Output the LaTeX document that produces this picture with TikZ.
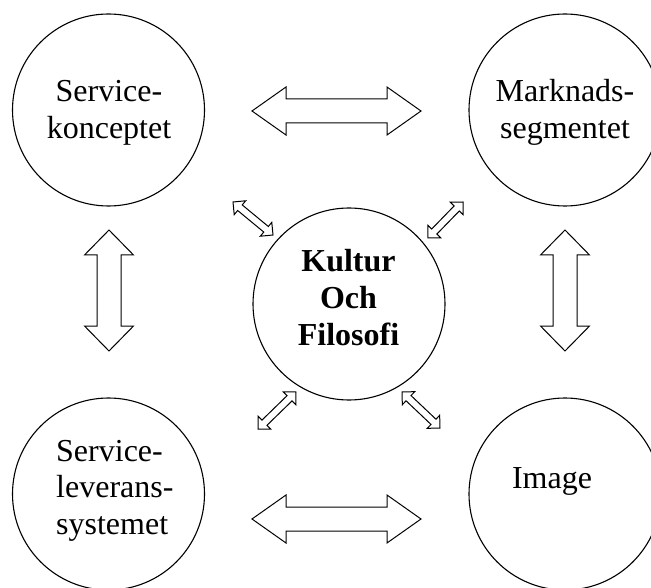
\documentclass[tikz,border=0pt]{standalone}
\usepackage{fontspec}
\setmainfont{Liberation Serif}
\usetikzlibrary{calc}
\tikzset{
  circ/.style={circle, draw, line width=1.1pt, minimum size=192pt, inner sep=0pt},
  lbl/.style={font=\fontsize{32}{36.5}\selectfont, inner sep=0pt},
  blockarrow/.style={draw, line width=1pt, line join=miter, fill=white}
}
\newcommand\blockarr[5]{%
  \coordinate (ba1) at ($(#1)!#5!(#2)$);
  \coordinate (ba2) at ($(#2)!#5!(#1)$);
  \draw[blockarrow] (#1) -- ($(ba1)!#4!90:(#2)$) -- ($(ba1)!#3!90:(#2)$)
    -- ($(ba2)!#3!-90:(#1)$) -- ($(ba2)!#4!-90:(#1)$) -- (#2)
    -- ($(ba2)!#4!90:(#1)$) -- ($(ba2)!#3!90:(#1)$)
    -- ($(ba1)!#3!-90:(#2)$) -- ($(ba1)!#4!-90:(#2)$) -- cycle;}
\begin{document}
\begin{tikzpicture}[x=1pt,y=-1pt]
\clip (0,0) rectangle (651,588);
\fill[white] (0,0) rectangle (651,588);
% circles
\node[circ] (tl) at (108.5,110) {};
\node[circ] (tr) at (565,110) {};
\node[circ] (bl) at (108.5,494) {};
\node[circ] (br) at (565,494) {};
\node[circ] (c) at (349,304) {};
% labels
\node[lbl, align=center] (tlt) at (109,113) {Service-\\konceptet};
\node[lbl, align=center] (trt) at (565,112.5) {Marknads-\\segmentet};
\node[lbl, align=left, anchor=west] (blt) at (56,490.7) {Service-\\leverans-\\systemet};
\node[lbl] (brt) at (552,481) {Image};
\node[lbl, align=center, font=\fontsize{32}{37}\selectfont\bfseries] (ct) at (348.5,297.5) {Kultur\\Och\\Filosofi};
% arrow end points
\coordinate (h1a) at (252,111); \coordinate (h1b) at (421,111);
\coordinate (h2a) at (252,519); \coordinate (h2b) at (421,519);
\coordinate (v1a) at (109,230); \coordinate (v1b) at (109,351);
\coordinate (v2a) at (565,230); \coordinate (v2b) at (565,351);
\coordinate (d1a) at (233,202); \coordinate (d1b) at (273,235);
\coordinate (d2a) at (428,238); \coordinate (d2b) at (463,202);
\coordinate (d3a) at (258,429); \coordinate (d3b) at (296,392);
\coordinate (d4a) at (402,392); \coordinate (d4b) at (440,428);
% block arrows
\blockarr{h1a}{h1b}{12pt}{24pt}{34pt}
\blockarr{h2a}{h2b}{12pt}{24pt}{34pt}
\blockarr{v1a}{v1b}{12pt}{24.5pt}{25pt}
\blockarr{v2a}{v2b}{12pt}{24.5pt}{25pt}
\blockarr{d1a}{d1b}{3.6pt}{9pt}{9pt}
\blockarr{d2a}{d2b}{3.6pt}{9pt}{9pt}
\blockarr{d3a}{d3b}{3.6pt}{9pt}{9pt}
\blockarr{d4a}{d4b}{3.6pt}{9pt}{9pt}
\end{tikzpicture}
\end{document}
